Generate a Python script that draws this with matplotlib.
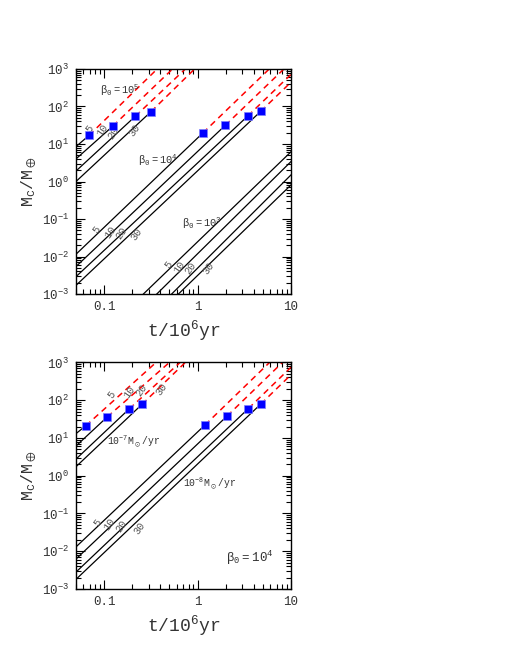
import numpy as np
import matplotlib
matplotlib.use("Agg")
import matplotlib.pyplot as plt

plt.rcParams['font.family'] = ['Liberation Mono', 'DejaVu Sans']
plt.rcParams['mathtext.fontset'] = 'dejavusans'

# ---- panel (a): tracks for beta_0 = 1e5, 1e4, 1e3 (labels 5,10,20,30) ----
a1_start_t = [0.05, 0.05, 0.05, 0.05]
a1_start_m = [8.5, 4.0, 1.9, 1.0]
a1_sq_t = [0.069, 0.124, 0.216, 0.318]
a1_sq_m = [17, 30, 55, 73]
a1_end_t = [0.37, 0.54, 0.74, 0.93]
a1_end_m = [1000, 1000, 1000, 1000]

a2_start_t = [0.05, 0.05, 0.05, 0.05]
a2_start_m = [0.0115, 0.0054, 0.0029, 0.0017]
a2_sq_t = [1.14, 1.98, 3.45, 4.75]
a2_sq_m = [19.7, 31.5, 55.8, 74.5]
a2_end_t = [5.85, 8.4, 10, 10]
a2_end_m = [1000, 1000, 717, 445]

a3_start_t = [0.263, 0.366, 0.528, 0.624]
a3_start_m = [0.001, 0.001, 0.001, 0.001]
a3_end_t = [10, 10, 10, 10]
a3_end_m = [6.2, 3.4, 1.5, 0.81]

# ---- panel (b): beta_0 = 1e4, accretion 1e-7 and 1e-8 Msun/yr ----
b1_start_t = [0.05, 0.05, 0.05, 0.05]
b1_start_m = [13, 6.1, 2.75, 1.73]
b1_sq_t = [0.0636, 0.108, 0.186, 0.255]
b1_sq_m = [21, 36, 59, 78]
b1_end_t = [0.36, 0.50, 0.65, 0.74]
b1_end_m = [1000, 1000, 1000, 1000]

b2_start_t = [0.05, 0.05, 0.05, 0.05]
b2_start_m = [0.013, 0.0062, 0.0028, 0.0018]
b2_sq_t = [1.20, 2.07, 3.50, 4.75]
b2_sq_m = [22, 38, 60, 79]
b2_end_t = [5.9, 8.1, 10, 10]
b2_end_m = [1000, 1000, 745, 472]

num_labels = ['5', '10', '20', '30']


def draw_tracks(ax, st, sm, qt, qm, et, em):
    for i in range(len(st)):
        if qt is None:
            ax.plot([st[i], et[i]], [sm[i], em[i]], color='black', lw=0.9)
            continue
        ax.plot([st[i], qt[i]], [sm[i], qm[i]], color='black', lw=0.9)
        ax.plot([qt[i], et[i]], [qm[i], em[i]], color='red', lw=1.1,
                dashes=(4, 3))
    if qt is not None:
        ax.plot(qt, qm, 's', color='blue', markersize=5.5,
                markeredgecolor='#7f7fff', markeredgewidth=0.5, zorder=5)


def style_axes(ax):
    ax.set_xscale('log')
    ax.set_yscale('log')
    ax.set_xlim(0.05, 10)
    ax.set_ylim(1e-3, 1e3)
    ax.set_xticks([0.1, 1, 10])
    ax.set_xticklabels(['0.1', '1', '10'])
    ax.tick_params(which='both', direction='in', top=True, right=True,
                   labelsize=9, width=0.8, colors='black')
    ax.tick_params(which='major', length=6.5, pad=5)
    ax.tick_params(which='minor', length=3.5)
    for lab in ax.get_xticklabels() + ax.get_yticklabels():
        lab.set_color('#333333')
    ax.set_xlabel(r'$\mathregular{t/10^6yr}$', fontsize=13, color='#333333')
    ax.set_ylabel(r'$\mathregular{M_c/M_\oplus}$', fontsize=12,
                  color='#333333', labelpad=2)
    for s in ax.spines.values():
        s.set_linewidth(1.0)


fig = plt.figure(figsize=(5.1, 6.6), dpi=100)
ax1 = fig.add_axes([0.149, 0.5545, 0.4216, 0.341])
ax2 = fig.add_axes([0.149, 0.1076, 0.4216, 0.3433])

draw_tracks(ax1, a1_start_t, a1_start_m, a1_sq_t, a1_sq_m, a1_end_t, a1_end_m)
draw_tracks(ax1, a2_start_t, a2_start_m, a2_sq_t, a2_sq_m, a2_end_t, a2_end_m)
draw_tracks(ax1, a3_start_t, a3_start_m, None, None, a3_end_t, a3_end_m)
style_axes(ax1)

draw_tracks(ax2, b1_start_t, b1_start_m, b1_sq_t, b1_sq_m, b1_end_t, b1_end_m)
draw_tracks(ax2, b2_start_t, b2_start_m, b2_sq_t, b2_sq_m, b2_end_t, b2_end_m)
style_axes(ax2)

gray = '#555555'
small = dict(fontsize=7.5, color=gray, ha='center', va='center', rotation=55)

# panel (a) annotations
ax1.text(0.205, 0.907, r'$\mathregular{\beta_0=10^5}$', transform=ax1.transAxes,
         fontsize=7.5, ha='center', va='center', color='#333333')
ax1.text(0.383, 0.596, r'$\mathregular{\beta_0=10^4}$', transform=ax1.transAxes,
         fontsize=7.5, ha='center', va='center', color='#333333')
ax1.text(0.585, 0.314, r'$\mathregular{\beta_0=10^3}$', transform=ax1.transAxes,
         fontsize=7.5, ha='center', va='center', color='#333333')
for lab, x, y in zip(num_labels, [0.065, 0.124, 0.174, 0.274],
                     [0.735, 0.728, 0.716, 0.728]):
    ax1.text(x, y, lab, transform=ax1.transAxes, **small)
for lab, x, y in zip(num_labels, [0.098, 0.158, 0.213, 0.282],
                     [0.284, 0.276, 0.272, 0.267]):
    ax1.text(x, y, lab, transform=ax1.transAxes, **small)
for lab, x, y in zip(num_labels, [0.429, 0.480, 0.533, 0.615],
                     [0.129, 0.121, 0.114, 0.114]):
    ax1.text(x, y, lab, transform=ax1.transAxes, **small)

# panel (b) annotations
for lab, x, y in zip(num_labels, [0.166, 0.248, 0.306, 0.399],
                     [0.857, 0.869, 0.877, 0.883]):
    ax2.text(x, y, lab, transform=ax2.transAxes, **small)
for lab, x, y in zip(num_labels, [0.099, 0.155, 0.213, 0.294],
                     [0.291, 0.284, 0.276, 0.269]):
    ax2.text(x, y, lab, transform=ax2.transAxes, **small)
ax2.text(0.146, 0.651, r'$\mathregular{10^{-7}M_\odot/yr}$', transform=ax2.transAxes,
         fontsize=7, ha='left', va='center', color='#333333')
ax2.text(0.499, 0.465, r'$\mathregular{10^{-8}M_\odot/yr}$', transform=ax2.transAxes,
         fontsize=7, ha='left', va='center', color='#333333')
ax2.text(0.809, 0.137, r'$\mathregular{\beta_0=10^4}$', transform=ax2.transAxes,
         fontsize=9, ha='center', va='center', color='#333333')

fig.savefig('out.png', dpi=100)
